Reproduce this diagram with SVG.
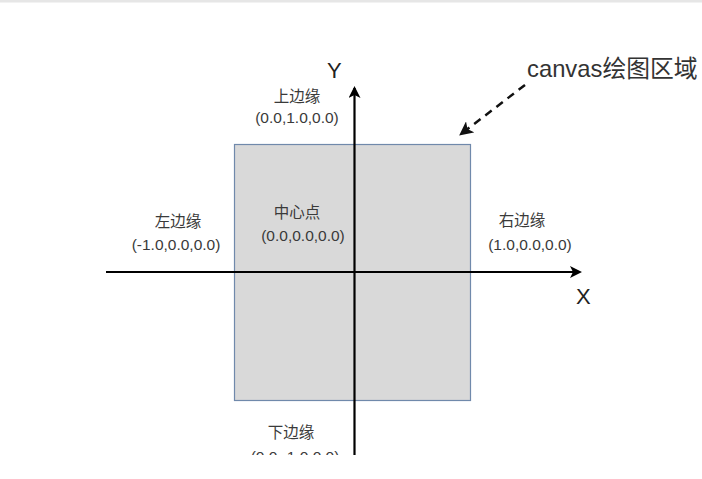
<svg xmlns="http://www.w3.org/2000/svg" width="702" height="479" viewBox="0 0 702 479">
<style>
.lbl{font-family:"Liberation Sans","Noto Sans CJK SC",sans-serif;font-size:15.5px;fill:#3a3a3a;text-anchor:middle}
.ax{font-family:"Liberation Sans","Noto Sans CJK SC",sans-serif;font-size:22px;fill:#222}
.axis{stroke:#000;stroke-width:2.2;fill:none}
</style>
<defs>
<marker id="ah" viewBox="0 0 12 12" refX="10" refY="6" markerWidth="12" markerHeight="12" markerUnits="userSpaceOnUse" orient="auto">
<path d="M0,0 L12,6 L0,12 L3,6 Z" fill="#000"/>
</marker>
<marker id="ahd" viewBox="0 0 12 12" refX="10" refY="6" markerWidth="14" markerHeight="14" markerUnits="userSpaceOnUse" orient="auto">
<path d="M0,0 L12,6 L0,12 L3,6 Z" fill="#111"/>
</marker>
</defs>
<rect width="702" height="479" fill="#fff"/>
<rect width="702" height="2.5" fill="#e6e6e6"/>
<g id="canvas-area">
<rect x="234.5" y="144.5" width="236" height="256" fill="#d9d9d9" stroke="#7089ab" stroke-width="1.2"/>
</g>
<g id="connectors">
<line class="axis" x1="106" y1="272" x2="580" y2="272" marker-end="url(#ah)"/>
<line class="axis" x1="354.5" y1="460" x2="354.5" y2="88" marker-end="url(#ah)"/>
<line x1="525" y1="85" x2="461" y2="134" stroke="#111" stroke-width="2.5" stroke-dasharray="8,6" marker-end="url(#ahd)"/>
</g>
<g id="axis-y"><text class="ax" x="327" y="78">Y</text></g>
<g id="axis-x"><text class="ax" x="576" y="304">X</text></g>
<g id="canvas-label"><text x="527" y="77" style="font-family:'Liberation Sans','Noto Sans CJK SC',sans-serif;font-size:23.8px;fill:#333">canvas绘图区域</text></g>
<g id="top"><text class="lbl" x="297" y="102">上边缘</text><text class="lbl" x="297" y="123">(0.0,1.0,0.0)</text></g>
<g id="left"><text class="lbl" x="178" y="227">左边缘</text><text class="lbl" x="176" y="250">(-1.0,0.0,0.0)</text></g>
<g id="center"><text class="lbl" x="297" y="218">中心点</text><text class="lbl" x="303" y="241">(0.0,0.0,0.0)</text></g>
<g id="right"><text class="lbl" x="522" y="226">右边缘</text><text class="lbl" x="530" y="250">(1.0,0.0,0.0)</text></g>
<g id="bottom"><text class="lbl" x="291" y="438">下边缘</text><text class="lbl" x="295" y="462">(0.0,-1.0,0.0)</text></g>
<rect x="0" y="455" width="702" height="24" fill="#fff"/>
</svg>
